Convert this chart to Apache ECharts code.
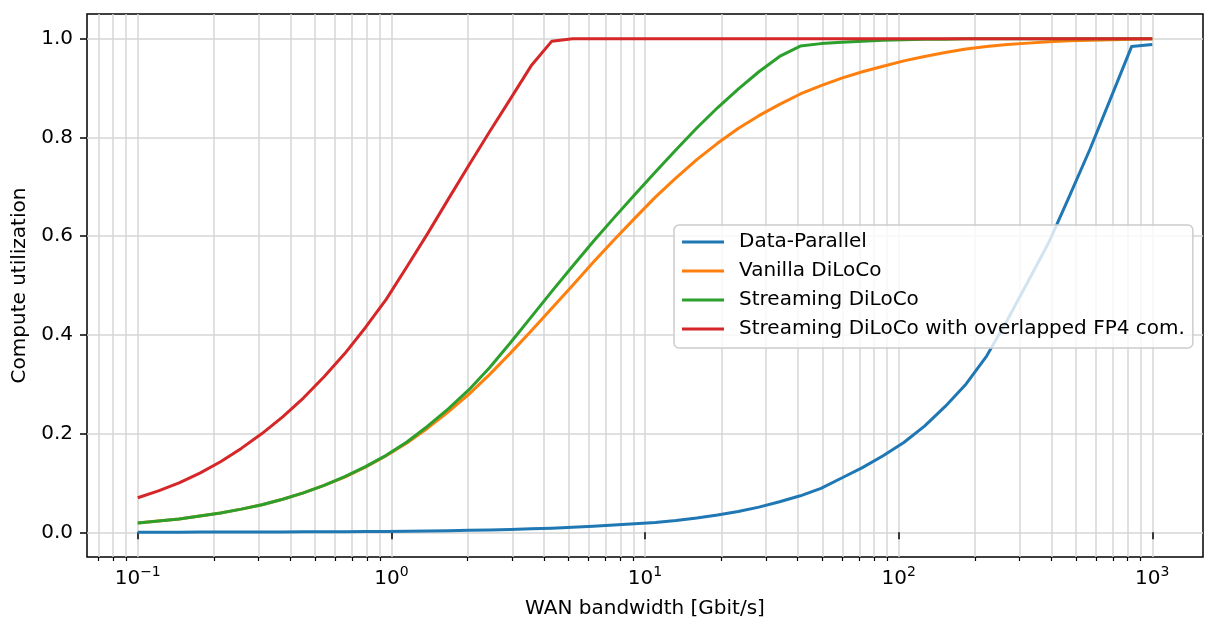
<!DOCTYPE html>
<html><head><meta charset="utf-8">
<script src="https://cdn.jsdelivr.net/npm/echarts@6/dist/echarts.min.js"></script>
<style>html,body{margin:0;padding:0;background:#fff}#c{width:1217px;height:635px}</style>
</head><body><div id="c"></div>
<script>
const bandwidth = [0.1, 0.1207, 0.1456, 0.1758, 0.2121, 0.2560, 0.3089, 0.3728, 0.4498, 0.5429,
  0.6551, 0.7906, 0.9541, 1.1514, 1.3895, 1.6768, 2.0236, 2.4421, 2.9471, 3.5565,
  4.2919, 5.1795, 6.2506, 7.5431, 9.1030, 10.985, 13.257, 15.999, 19.307, 23.300,
  28.118, 33.932, 40.949, 49.417, 59.636, 71.969, 86.851, 104.81, 126.49, 152.64,
  184.21, 222.30, 268.27, 323.75, 390.69, 471.49, 568.99, 686.65, 828.64, 1000];
const dataParallel = [0.0002, 0.0002, 0.0003, 0.0004, 0.0004, 0.0005, 0.0006, 0.0007, 0.0009, 0.0011,
  0.0013, 0.0016, 0.0019, 0.0023, 0.0028, 0.0034, 0.0040, 0.0048, 0.0058, 0.0070,
  0.0084, 0.0101, 0.0121, 0.0146, 0.0175, 0.020, 0.024, 0.029, 0.035, 0.042,
  0.051, 0.062, 0.074, 0.089, 0.110, 0.131, 0.155, 0.182, 0.215, 0.255,
  0.300, 0.357, 0.430, 0.508, 0.587, 0.681, 0.777, 0.880, 0.984, 0.988];
const vanillaDiLoCo = [0.019, 0.023, 0.027, 0.033, 0.039, 0.047, 0.056, 0.067, 0.080, 0.095,
  0.112, 0.132, 0.155, 0.181, 0.211, 0.244, 0.280, 0.320, 0.363, 0.408,
  0.454, 0.500, 0.547, 0.592, 0.636, 0.679, 0.718, 0.755, 0.788, 0.818,
  0.844, 0.867, 0.888, 0.905, 0.920, 0.933, 0.944, 0.955, 0.964, 0.972,
  0.979, 0.984, 0.988, 0.991, 0.994, 0.996, 0.997, 0.998, 0.999, 1.0];
const streamingDiLoCo = [0.019, 0.023, 0.027, 0.033, 0.039, 0.047, 0.056, 0.067, 0.080, 0.095,
  0.113, 0.133, 0.156, 0.183, 0.215, 0.250, 0.289, 0.334, 0.384, 0.436,
  0.488, 0.539, 0.589, 0.637, 0.684, 0.730, 0.775, 0.819, 0.860, 0.898,
  0.933, 0.964, 0.985, 0.990, 0.993, 0.995, 0.997, 0.998, 0.999, 0.999,
  1.0, 1.0, 1.0, 1.0, 1.0, 1.0, 1.0, 1.0, 1.0, 1.0];
const streamingFP4 = [0.070, 0.084, 0.100, 0.120, 0.143, 0.170, 0.200, 0.234, 0.272, 0.315,
  0.362, 0.415, 0.472, 0.538, 0.605, 0.675, 0.744, 0.812, 0.878, 0.945,
  0.995, 1.0, 1.0, 1.0, 1.0, 1.0, 1.0, 1.0, 1.0, 1.0,
  1.0, 1.0, 1.0, 1.0, 1.0, 1.0, 1.0, 1.0, 1.0, 1.0,
  1.0, 1.0, 1.0, 1.0, 1.0, 1.0, 1.0, 1.0, 1.0, 1.0];
const seriesNames = ['Data-Parallel', 'Vanilla DiLoCo', 'Streaming DiLoCo', 'Streaming DiLoCo with overlapped FP4 com.'];
const seriesColors = ['#1f77b4', '#ff7f0e', '#2ca02c', '#d62728'];
const xMajorTicks = [0.1, 1, 10, 100, 1000];
const xMajorExponents = ['\u22121', '0', '1', '2', '3'];
const xMinorTicks = [0.07, 0.08, 0.09, 0.2, 0.3, 0.4, 0.5, 0.6, 0.7, 0.8, 0.9,
  2, 3, 4, 5, 6, 7, 8, 9, 20, 30, 40, 50, 60, 70, 80, 90,
  200, 300, 400, 500, 600, 700, 800, 900];
const yTicks = [0, 0.2, 0.4, 0.6, 0.8, 1.0];
const yTickLabels = ['0.0', '0.2', '0.4', '0.6', '0.8', '1.0'];

const FONT = 'DejaVu Sans';
const FS = 20;
const gridStyle = { color: '#d6d6d6', width: 1.5 };
const allSeries = [dataParallel, vanillaDiLoCo, streamingDiLoCo, streamingFP4];

function xLabel(v) {
  for (let i = 0; i < xMajorTicks.length; i++) {
    if (Math.abs(Math.log10(v) - Math.log10(xMajorTicks[i])) < 1e-6) return '{b|10}{s|' + xMajorExponents[i] + '}';
  }
  return '';
}
function yLabel(v) {
  for (let i = 0; i < yTicks.length; i++) {
    if (Math.abs(v - yTicks[i]) < 1e-6) return yTickLabels[i];
  }
  return '';
}

const chart = echarts.init(document.getElementById('c'), null, { renderer: 'canvas' });
chart.setOption({
  animation: false,
  backgroundColor: '#fff',
  textStyle: { fontFamily: FONT },
  grid: { left: 87, right: 14, top: 14, bottom: 78, show: true, borderColor: '#000', borderWidth: 1.5, backgroundColor: 'transparent' },
  legend: {
    orient: 'vertical', left: 674, top: 225,
    icon: 'rect', itemWidth: 42, itemHeight: 3, itemGap: 9,
    padding: [7, 8, 9, 8],
    backgroundColor: 'rgba(255,255,255,0.8)', borderColor: '#cccccc', borderWidth: 1.5, borderRadius: 5,
    textStyle: { fontFamily: FONT, fontSize: FS, color: '#000', lineHeight: 20, padding: [0, 0, 0, 10] },
    data: seriesNames
  },
  xAxis: [{
    type: 'log', logBase: 10, min: Math.pow(10, -1.2), max: Math.pow(10, 3.2),
    position: 'bottom',
    name: 'WAN bandwidth [Gbit/s]', nameLocation: 'middle', nameGap: 42,
    nameTextStyle: { fontFamily: FONT, fontSize: FS, color: '#000', lineHeight: 20 },
    axisLine: { show: false },
    axisTick: { show: true, customValues: xMajorTicks, length: 7, lineStyle: { color: '#000', width: 1.5 } },
    axisLabel: {
      customValues: xMajorTicks, margin: 10, formatter: xLabel,
      rich: {
        b: { fontFamily: FONT, fontSize: FS, color: '#000', lineHeight: 22, verticalAlign: 'bottom' },
        s: { fontFamily: FONT, fontSize: 14, color: '#000', lineHeight: 14, verticalAlign: 'bottom', padding: [0, 0, 10, 0] }
      }
    },
    splitLine: { show: true, lineStyle: gridStyle },
    minorTick: { show: false }
  }, {
    type: 'log', logBase: 10, min: Math.pow(10, -1.2), max: Math.pow(10, 3.2),
    position: 'bottom', gridIndex: 0,
    axisLine: { show: false },
    axisTick: { show: true, customValues: xMinorTicks, length: 4, lineStyle: { color: '#000', width: 1.2 } },
    axisLabel: { show: false },
    splitLine: { show: true, lineStyle: gridStyle }
  }],
  yAxis: {
    type: 'value', min: -0.05, max: 1.05,
    name: 'Compute utilization', nameLocation: 'middle', nameGap: 55, nameRotate: 90,
    nameTextStyle: { fontFamily: FONT, fontSize: FS, color: '#000', lineHeight: 20 },
    axisLine: { show: false },
    axisTick: { show: true, customValues: yTicks, length: 7, lineStyle: { color: '#000', width: 1.5 } },
    axisLabel: { customValues: yTicks, margin: 14, formatter: yLabel, fontFamily: FONT, fontSize: FS, color: '#000' },
    splitLine: { show: true, lineStyle: gridStyle }
  },
  series: allSeries.map((vals, k) => ({
    name: seriesNames[k], type: 'line', xAxisIndex: 0, yAxisIndex: 0,
    showSymbol: false, symbol: 'none', smooth: false,
    color: seriesColors[k],
    lineStyle: { width: 3, color: seriesColors[k], cap: 'butt', join: 'round' },
    itemStyle: { color: seriesColors[k] },
    emphasis: { disabled: true },
    data: bandwidth.map((b, i) => [b, vals[i]])
  }))
});
</script></body></html>
